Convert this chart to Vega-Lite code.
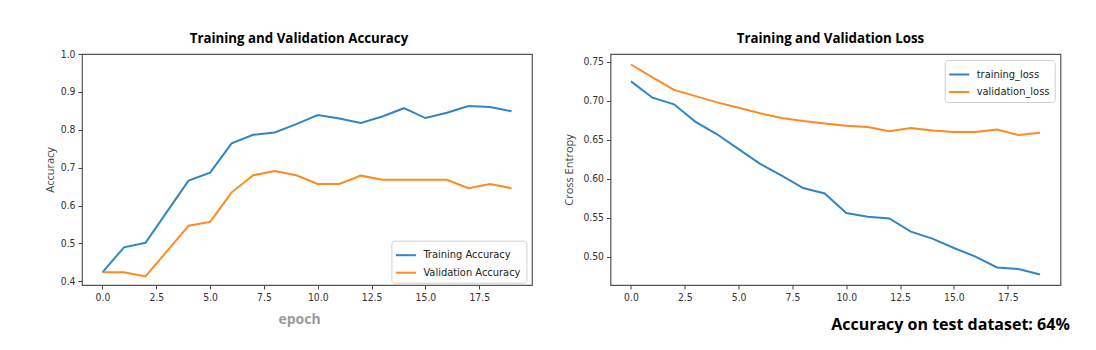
{
  "$schema": "https://vega.github.io/schema/vega-lite/v6.json",
  "background": "white",
  "padding": {"left": 43, "top": 31, "right": 0, "bottom": 0},
  "datasets": {
    "acc": [
      {"epoch": 0, "Training Accuracy": 0.424, "Validation Accuracy": 0.424},
      {"epoch": 1, "Training Accuracy": 0.490, "Validation Accuracy": 0.424},
      {"epoch": 2, "Training Accuracy": 0.502, "Validation Accuracy": 0.413},
      {"epoch": 3, "Training Accuracy": 0.584, "Validation Accuracy": 0.480},
      {"epoch": 4, "Training Accuracy": 0.666, "Validation Accuracy": 0.547},
      {"epoch": 5, "Training Accuracy": 0.687, "Validation Accuracy": 0.557},
      {"epoch": 6, "Training Accuracy": 0.764, "Validation Accuracy": 0.635},
      {"epoch": 7, "Training Accuracy": 0.787, "Validation Accuracy": 0.680},
      {"epoch": 8, "Training Accuracy": 0.793, "Validation Accuracy": 0.691},
      {"epoch": 9, "Training Accuracy": 0.815, "Validation Accuracy": 0.680},
      {"epoch": 10, "Training Accuracy": 0.839, "Validation Accuracy": 0.657},
      {"epoch": 11, "Training Accuracy": 0.830, "Validation Accuracy": 0.657},
      {"epoch": 12, "Training Accuracy": 0.818, "Validation Accuracy": 0.679},
      {"epoch": 13, "Training Accuracy": 0.835, "Validation Accuracy": 0.668},
      {"epoch": 14, "Training Accuracy": 0.857, "Validation Accuracy": 0.668},
      {"epoch": 15, "Training Accuracy": 0.831, "Validation Accuracy": 0.668},
      {"epoch": 16, "Training Accuracy": 0.845, "Validation Accuracy": 0.668},
      {"epoch": 17, "Training Accuracy": 0.863, "Validation Accuracy": 0.646},
      {"epoch": 18, "Training Accuracy": 0.860, "Validation Accuracy": 0.657},
      {"epoch": 19, "Training Accuracy": 0.849, "Validation Accuracy": 0.646}
    ],
    "loss": [
      {"epoch": 0, "training_loss": 0.725, "validation_loss": 0.7466},
      {"epoch": 1, "training_loss": 0.704, "validation_loss": 0.730},
      {"epoch": 2, "training_loss": 0.6955, "validation_loss": 0.714},
      {"epoch": 3, "training_loss": 0.673, "validation_loss": 0.706},
      {"epoch": 4, "training_loss": 0.657, "validation_loss": 0.698},
      {"epoch": 5, "training_loss": 0.638, "validation_loss": 0.691},
      {"epoch": 6, "training_loss": 0.619, "validation_loss": 0.684},
      {"epoch": 7, "training_loss": 0.604, "validation_loss": 0.678},
      {"epoch": 8, "training_loss": 0.588, "validation_loss": 0.674},
      {"epoch": 9, "training_loss": 0.581, "validation_loss": 0.671},
      {"epoch": 10, "training_loss": 0.556, "validation_loss": 0.668},
      {"epoch": 11, "training_loss": 0.551, "validation_loss": 0.6665},
      {"epoch": 12, "training_loss": 0.549, "validation_loss": 0.661},
      {"epoch": 13, "training_loss": 0.532, "validation_loss": 0.665},
      {"epoch": 14, "training_loss": 0.523, "validation_loss": 0.662},
      {"epoch": 15, "training_loss": 0.511, "validation_loss": 0.660},
      {"epoch": 16, "training_loss": 0.500, "validation_loss": 0.660},
      {"epoch": 17, "training_loss": 0.486, "validation_loss": 0.663},
      {"epoch": 18, "training_loss": 0.484, "validation_loss": 0.656},
      {"epoch": 19, "training_loss": 0.477, "validation_loss": 0.659}
    ]
  },
  "config": {
    "view": {"stroke": "#555555", "strokeWidth": 1.2},
    "axis": {
      "grid": false,
      "domain": false,
      "tickColor": "#444444",
      "tickSize": 4,
      "labelColor": "#333333",
      "labelFont": "DejaVu Sans Condensed, DejaVu Sans",
      "labelFontSize": 10.3,
      "labelPadding": 3,
      "titleFont": "Open Sans",
      "titleFontSize": 11,
      "titleFontWeight": "normal",
      "titleColor": "#444444"
    },
    "legend": {
      "labelFont": "DejaVu Sans Condensed, DejaVu Sans",
      "labelFontSize": 11,
      "labelColor": "#222222",
      "symbolType": "M-1.2,0H1.2",
      "symbolSize": 280,
      "symbolStrokeWidth": 2,
      "fillColor": "rgba(255,255,255,0.85)",
      "strokeColor": "#d0d0d0",
      "cornerRadius": 3,
      "padding": 5,
      "rowPadding": 2.5,
      "labelOffset": 8
    },
    "title": {
      "font": "Open Sans",
      "fontSize": 13.3,
      "fontWeight": "bold",
      "color": "#000000",
      "baseline": "alphabetic",
      "anchor": "middle"
    }
  },
  "spacing": 78.5,
  "bounds": "flush",
  "resolve": {
    "scale": {"x": "independent", "y": "independent", "color": "independent"},
    "legend": {"color": "independent"}
  },
  "hconcat": [
    {
      "width": 450,
      "height": 231,
      "title": {"text": "Training and Validation Accuracy", "dx": -8, "dy": 5, "offset": 8.5},
      "data": {"name": "acc"},
      "transform": [{"fold": ["Training Accuracy", "Validation Accuracy"], "as": ["series", "value"]}],
      "mark": {"type": "line", "strokeWidth": 2},
      "encoding": {
        "x": {
          "field": "epoch", "type": "quantitative",
          "scale": {"domain": [-0.95, 19.95], "nice": false, "zero": false},
          "axis": {
            "values": [0, 2.5, 5, 7.5, 10, 12.5, 15, 17.5], "format": ".1f",
            "title": "epoch", "titleFont": "Open Sans", "titleFontWeight": "bold", "titleFontSize": 14,
            "titleColor": "#9a9a9a", "titleX": 217, "titleY": 38.5, "titleBaseline": "alphabetic", "titleAlign": "center"
          }
        },
        "y": {
          "field": "value", "type": "quantitative",
          "scale": {"domain": [0.3905, 1.0], "nice": false, "zero": false},
          "axis": {
            "values": [0.4, 0.5, 0.6, 0.7, 0.8, 0.9, 1.0], "format": ".1f",
            "title": "Accuracy", "titleX": -32, "titleY": 115.5, "titleAngle": 270,
            "titleBaseline": "middle", "titleAlign": "center"
          }
        },
        "color": {
          "field": "series", "type": "nominal",
          "scale": {"domain": ["Training Accuracy", "Validation Accuracy"], "range": ["#3484c4", "#ff8a1f"]},
          "legend": {"title": null, "orient": "none", "legendX": 309.4, "legendY": 186.7}
        }
      }
    },
    {
      "width": 450,
      "height": 231,
      "title": {"text": "Training and Validation Loss", "dx": -5, "offset": 8.5},
      "data": {"name": "loss"},
      "transform": [{"fold": ["training_loss", "validation_loss"], "as": ["series", "value"]}],
      "mark": {"type": "line", "strokeWidth": 2},
      "encoding": {
        "x": {
          "field": "epoch", "type": "quantitative",
          "scale": {"domain": [-0.95, 19.95], "nice": false, "zero": false},
          "axis": {
            "values": [0, 2.5, 5, 7.5, 10, 12.5, 15, 17.5], "format": ".1f",
            "title": "Accuracy on test dataset: 64%", "titleFont": "Open Sans", "titleFontWeight": "bold", "titleFontSize": 16,
            "titleColor": "#000000", "titleX": 458.8, "titleY": 44, "titleBaseline": "alphabetic", "titleAlign": "right"
          }
        },
        "y": {
          "field": "value", "type": "quantitative",
          "scale": {"domain": [0.4635, 0.7601], "nice": false, "zero": false},
          "axis": {
            "values": [0.5, 0.55, 0.6, 0.65, 0.7, 0.75], "format": ".2f",
            "title": "Cross Entropy", "titleX": -40.8, "titleY": 115.5, "titleAngle": 270,
            "titleBaseline": "middle", "titleAlign": "center"
          }
        },
        "color": {
          "field": "series", "type": "nominal",
          "scale": {"domain": ["training_loss", "validation_loss"], "range": ["#3484c4", "#ff8a1f"]},
          "legend": {"title": null, "orient": "none", "legendX": 334.2, "legendY": 6}
        }
      }
    }
  ]
}
